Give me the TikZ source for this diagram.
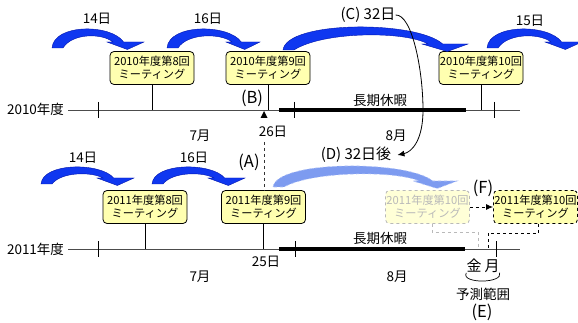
\documentclass[tikz,border=0pt]{standalone}
\usepackage{fontspec}
\setmainfont{Noto Sans CJK JP}
\usetikzlibrary{arrows.meta}
\definecolor{boxfill}{RGB}{255,255,176}
\definecolor{arblue}{RGB}{15,55,240}
\definecolor{arblueD}{RGB}{0,20,170}
\definecolor{fadeblue}{RGB}{125,155,240}
\definecolor{fadegray}{RGB}{185,185,185}
\definecolor{fadefill}{RGB}{255,255,215}
\newcommand\curarrow[7]{%
 \pgfmathsetmacro\caW{#3-#2}%
 \pgfmathsetmacro\caH{#4-6}%
 \pgfmathsetmacro\caCo{(8*#5-#4-\caH)/6}%
 \pgfmathsetmacro\caCi{(8*(#5+#6)-#4-\caH)/6}%
 \pgfmathsetmacro\caO{#3-0.55*#7}%
 \pgfmathsetmacro\caI{#3-#7+6}%
 \path[#1] (#2,#4) .. controls ({#2+0.02*\caW},\caCo) and ({\caO-0.14*\caW},\caCo) .. (\caO,\caH) -- (#3,\caH) -- ({#3-0.45*#7},{#4+1.5}) -- ({#3-#7},\caH) -- (\caI,\caH) .. controls ({\caI-0.12*\caW},\caCi) and ({#2+0.22*\caW},\caCi) .. ({#2+11},#4) -- cycle;}
\tikzset{
 meet/.style={draw=black, line width=0.8pt, fill=boxfill, rounded corners=4pt, minimum width=84pt, minimum height=33pt, inner sep=0pt, align=center, font=\fontsize{11.2}{13}\selectfont},
 fademeet/.style={meet, draw=fadegray, dashed, fill=fadefill, text=fadegray},
 newmeet/.style={meet, dashed},
 lbl/.style={font=\fontsize{13.5}{15}\selectfont, inner sep=0pt},
 midlbl/.style={font=\fontsize{15}{17}\selectfont, inner sep=0pt},
 biglbl/.style={font=\fontsize{16.5}{18}\selectfont, inner sep=0pt},
 tline/.style={line width=0.9pt, draw=black!70},
 tickmark/.style={line width=0.9pt, draw=black},
 holiday/.style={line width=3.5pt, draw=black},
 stem/.style={line width=0.8pt, draw=black},
 bluearrow/.style={fill=arblue, draw=arblueD, line width=0.4pt},
 fadearrow/.style={fill=fadeblue, draw=fadeblue!60!white, dashed, line width=0.6pt},
}
\begin{document}
\begin{tikzpicture}[x=1pt,y=-1pt]
\useasboundingbox (0,0) rectangle (578,323);
\clip (0,0) rectangle (578,323);
% ---------- 2010 ----------
\coordinate (a0) at (68,110);
\coordinate (a1) at (520,110);
\coordinate (ah0) at (279,110);
\coordinate (ah1) at (466,110);
\draw[tline] (a0) -- (a1);
\draw[holiday] (ah0) -- (ah1);
\foreach \x in {98,294,494} \draw[tickmark] (\x,102) -- (\x,118);
\node[lbl] (ya) at (35.5,109) {2010年度};
\node[meet] (m8a) at (152,68) {2010年度第8回\\ミーティング};
\node[meet] (m9a) at (268,68) {2010年度第9回\\ミーティング};
\node[meet] (m10a) at (481,68) {2010年度第10回\\ミーティング};
\draw[stem] (m8a.south) -- (m8a.south |- a0);
\draw[stem] (m9a.south) -- (m9a.south |- a0);
\draw[stem] (m10a.south) -- (m10a.south |- a0);
\curarrow{bluearrow}{52}{144}{48}{29}{7}{37}
\curarrow{bluearrow}{167}{260}{48}{29}{7}{34}
\curarrow{bluearrow}{283}{468}{50}{27}{8}{46}
\curarrow{bluearrow}{487}{582}{48}{29}{7}{37}
\node[lbl] (d14a) at (97,19) {14日};
\node[lbl] (d16a) at (208,19) {16日};
\node[midlbl] (d32c) at (368,15) {(C) 32日};
\node[lbl] (d15a) at (530,21) {15日};
\node[biglbl] (lB) at (252,98) {(B)};
\fill (264,111) -- (260.5,118) -- (267.5,118) -- cycle;
\node[lbl] (d26) at (273,132) {26日};
\node[lbl] (jula) at (200,136) {7月};
\node[lbl] (auga) at (396,136) {8月};
\node[lbl] (hola) at (380,100) {長期休暇};
% ---------- 2011 ----------
\coordinate (b0) at (68,249);
\coordinate (b1) at (520,249);
\coordinate (bh0) at (279,249);
\coordinate (bh1) at (465,249);
\draw[tline] (b0) -- (b1);
\draw[holiday] (bh0) -- (bh1);
\foreach \x in {98,295,496} \draw[tickmark] (\x,241) -- (\x,257);
\node[lbl] (yb) at (35.5,249) {2011年度};
\node[meet] (m8b) at (145,207) {2011年度第8回\\ミーティング};
\node[meet] (m9b) at (263.5,207) {2011年度第9回\\ミーティング};
\node[fademeet] (m10f) at (427.5,207) {2011年度第10回\\ミーティング};
\node[newmeet] (m10n) at (535.5,207) {2011年度第10回\\ミーティング};
\draw[stem] (m8b.south) -- (m8b.south |- b0);
\draw[stem] (m9b.south) -- (m9b.south |- b0);
\draw[fadegray, dashed, line width=0.9pt] ([xshift=4.5pt]m10f.south) |- (478,232) -- (478,249);
\draw[black, dashed, line width=0.9pt] ([xshift=3pt]m10n.south) |- (488,233) -- (488,249);
\draw[black, dashed, line width=0.9pt, -{Latex[length=7pt,width=6pt]}] (m10f.east) -- (m10n.west);
\curarrow{bluearrow}{41}{134}{184}{167}{7}{37}
\curarrow{bluearrow}{152}{245}{184}{167}{7}{37}
\curarrow{fadearrow}{273}{457}{187}{166}{8}{44}
\node[lbl] (d14b) at (83,158) {14日};
\node[lbl] (d16b) at (194,158) {16日};
\node[biglbl] (lA) at (249,162) {(A)};
\coordinate (atop) at (264,142);
\draw[black!80, dashed, line width=0.9pt] (atop) -- (atop |- m9b.north);
\node[midlbl] (d32d) at (356,155) {(D) 32日後};
\node[biglbl] (lF) at (483,188) {(F)};
\node[lbl] (d25) at (266,262) {25日};
\node[lbl] (julb) at (200,277) {7月};
\node[lbl] (augb) at (397,277) {8月};
\node[lbl] (holb) at (380,238) {長期休暇};
\node[midlbl] (fri) at (474,266) {金};
\node[midlbl] (mon) at (492,266) {月};
\node[lbl] (pred) at (483,294) {予測範囲};
\node[biglbl] (lE) at (482,312) {(E)};
\draw[line width=0.7pt] (fri.south west) .. controls ([xshift=-6pt,yshift=-11pt]fri.south west) and ([xshift=4pt,yshift=-11pt]mon.south east) .. (mon.south east);
% ---------- (C) -> (D) curve ----------
\coordinate (cq) at (423,110);
\draw[line width=0.8pt, -{Latex[length=7pt,width=6pt]}] (d32c.east) .. controls (412,14) and (423,70) .. (cq) .. controls (423,140) and (412,152) .. ([xshift=6pt]d32d.east);
\end{tikzpicture}
\end{document}
